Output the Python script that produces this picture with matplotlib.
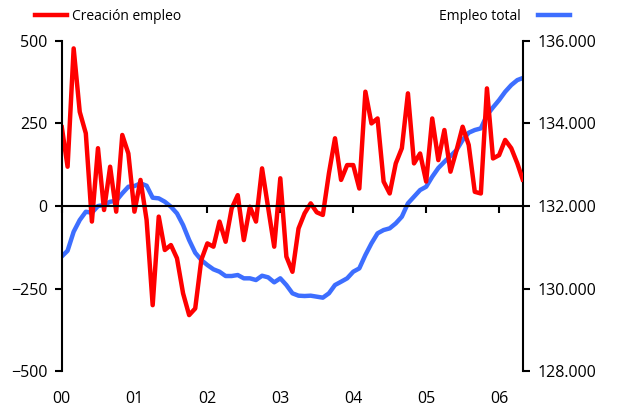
import numpy as np
import matplotlib
matplotlib.use("Agg")
from matplotlib import pyplot as plt
from matplotlib.ticker import FuncFormatter

plt.rcParams["font.family"] = ["Open Sans", "DejaVu Sans"]

# Monthly data, Jan 2000 - May 2006
creacion_empleo = [
    245, 119, 477, 285, 220, -47, 175, -12, 119, -17, 215, 159,
    -17, 79, -42, -300, -32, -133, -118, -158, -264, -330, -310, -163,
    -113, -123, -47, -108, -7, 33, -103, -2, -47, 114, -5, -123,
    84, -153, -199, -68, -22, 8, -19, -27, 99, 205, 79, 124,
    124, 53, 346, 250, 265, 74, 38, 129, 175, 341, 129, 159,
    74, 265, 139, 230, 104, 169, 240, 185, 43, 38, 356, 144,
    154, 200, 175, 129, 74,
]
empleo_total = [
    130773, 130918, 131378, 131661, 131862, 131838, 132000, 132024, 132104, 132128, 132307, 132467,
    132484, 132549, 132492, 132201, 132186, 132104, 131984, 131822, 131540, 131177, 130870, 130693,
    130572, 130468, 130410, 130306, 130306, 130330, 130250, 130250, 130209, 130313, 130274, 130153,
    130250, 130088, 129887, 129830, 129822, 129830, 129806, 129782, 129887, 130088, 130168, 130250,
    130410, 130491, 130814, 131097, 131339, 131419, 131460, 131581, 131742, 132065, 132226, 132387,
    132467, 132709, 132920, 133072, 133210, 133355, 133597, 133775, 133840, 133880, 134202, 134388,
    134565, 134766, 134928, 135049, 135105,
]
year_labels = ["00", "01", "02", "03", "04", "05", "06"]

months = np.arange(len(creacion_empleo))
year_ticks = np.arange(len(year_labels)) * 12

red = "#FF0000"
blue = "#3D6EFF"

fig = plt.figure(figsize=(6.2, 4.08), dpi=100)
ax = fig.add_axes([0.0992, 0.090, 0.745, 0.810])
ax2 = ax.twinx()

ax2.plot(months, empleo_total, color=blue, lw=3.2, solid_capstyle="butt")
ax.plot(months, creacion_empleo, color=red, lw=3.2, solid_capstyle="butt")
ax.set_zorder(ax2.get_zorder() + 1)
ax.patch.set_visible(False)

ax.set_xlim(0, len(creacion_empleo) - 1)
ax.set_ylim(-500, 500)
ax2.set_ylim(128000, 136000)
ax.set_yticks([-500, -250, 0, 250, 500])
ax2.set_yticks([128000, 130000, 132000, 134000, 136000])
ax2.yaxis.set_major_formatter(FuncFormatter(lambda v, p: f"{v:,.0f}".replace(",", ".")))

for a in (ax, ax2):
    a.spines["top"].set_visible(False)
    a.spines["left"].set_linewidth(1.5)
    a.spines["right"].set_linewidth(1.5)
ax.spines["right"].set_visible(False)
ax2.spines["left"].set_visible(False)
ax2.spines["bottom"].set_visible(False)

# zero line with year ticks
ax.spines["bottom"].set_position(("data", 0))
ax.spines["bottom"].set_linewidth(1.5)
ax.set_xticks(year_ticks)
ax.tick_params(axis="x", direction="out", length=5, width=1.5, labelbottom=False)

sec = ax.secondary_xaxis("bottom")
sec.set_xticks(year_ticks)
sec.set_xticklabels(year_labels)
sec.spines["bottom"].set_visible(False)
sec.tick_params(axis="x", length=0, pad=14, labelsize=11.5)

ax.tick_params(axis="y", direction="out", length=5, width=1.5, labelsize=11.5, pad=5)
ax2.tick_params(axis="y", direction="out", length=5, width=1.5, labelsize=11.5, pad=5)

h1, = ax.plot([], [], color=red, lw=3.2)
h2, = ax.plot([], [], color=blue, lw=3.2)
fig.legend([h1], ["Creación empleo"], loc="center left", bbox_to_anchor=(0.045, 0.96),
           frameon=False, fontsize=10, handlelength=2.3, handletextpad=0.4, borderpad=0)
fig.legend([h2], ["Empleo total"], loc="center right", bbox_to_anchor=(0.93, 0.96),
           frameon=False, fontsize=10, handlelength=2.3, handletextpad=1.2, borderpad=0,
           markerfirst=False)

plt.savefig("out.png", dpi=100)
